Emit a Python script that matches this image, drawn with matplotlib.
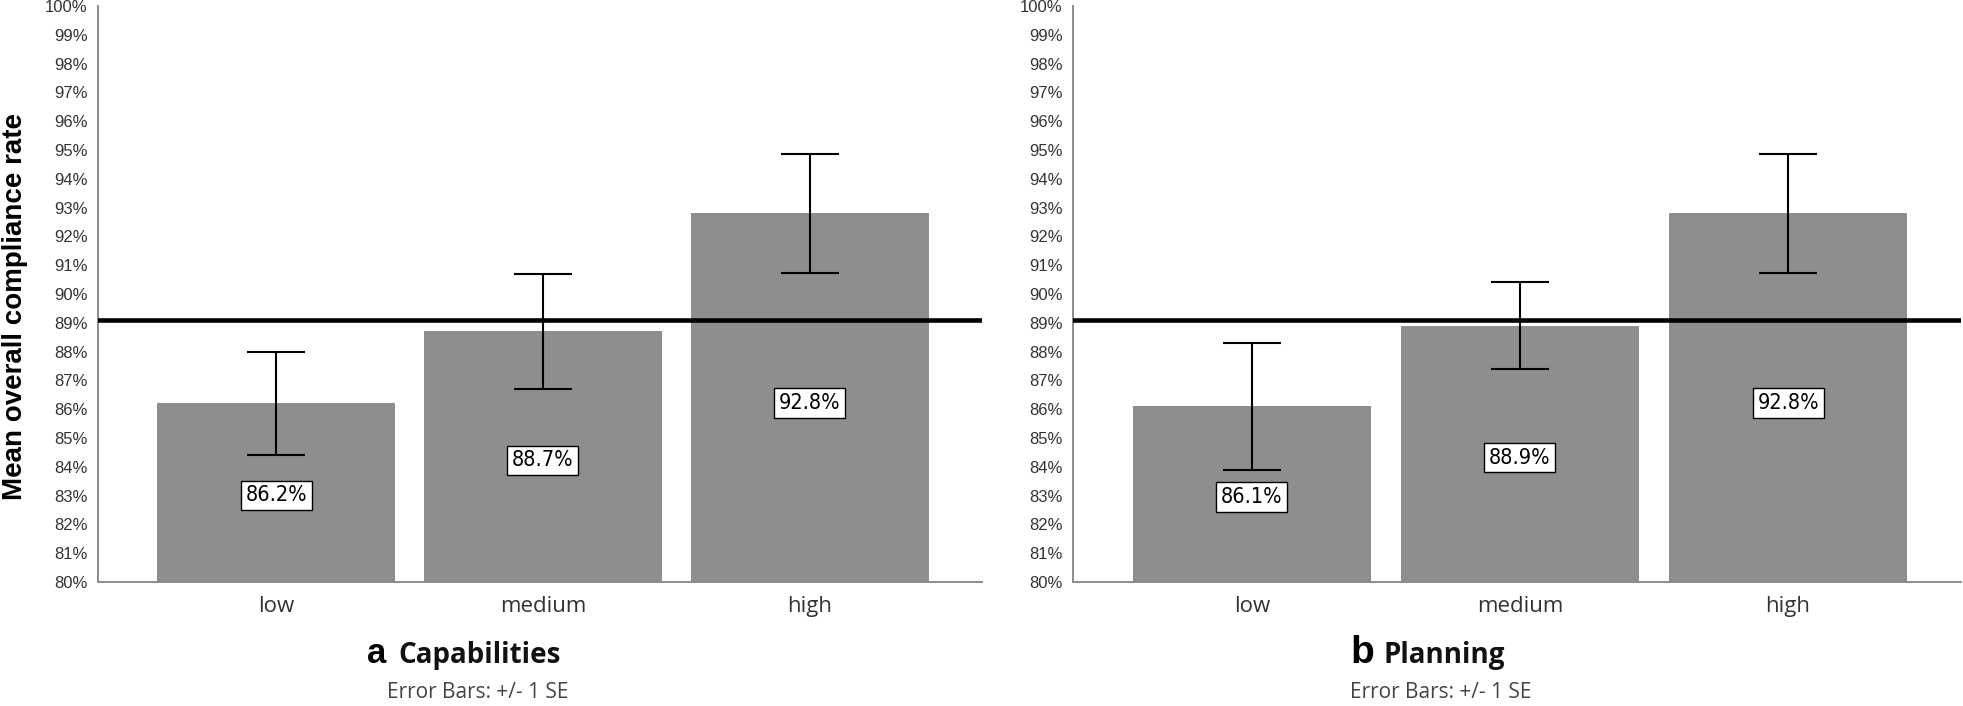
import matplotlib
matplotlib.use("Agg")
import matplotlib.pyplot as plt
from matplotlib import font_manager

categories = ["low", "medium", "high"]
cap_means = [86.2, 88.7, 92.8]
cap_se = [1.79, 2.00, 2.07]
plan_means = [86.1, 88.9, 92.8]
plan_se = [2.21, 1.50, 2.07]
overall_mean = 89.1
yticks = list(range(80, 101))
panel_letters = ["a", "b"]
panel_titles = ["Capabilities", "Planning"]
note = "Error Bars: +/- 1 SE"
ylabel = "Mean overall compliance rate"

names = {f.name for f in font_manager.fontManager.ttflist}
narrow = "Liberation Sans Narrow" if "Liberation Sans Narrow" in names else "DejaVu Sans"
narrow_stretch = "normal" if narrow == "Liberation Sans Narrow" else "condensed"

W, H = 1963, 706
fig = plt.figure(figsize=(W / 100, H / 100), dpi=100)

def px_axes(x0, x1, ytop, ybot):
    return fig.add_axes([x0 / W, (H - ybot) / H, (x1 - x0) / W, (ybot - ytop) / H])

axes = [px_axes(98, 982, 6, 582), px_axes(1073, 1961, 6, 582)]
series = [(cap_means, cap_se), (plan_means, plan_se)]

bar_color = "#8e8e8e"
spine_color = "#8c8c8c"
xpos = list(range(len(categories)))

for ax, (means, se) in zip(axes, series):
    ax.bar(xpos, means, width=0.89, color=bar_color, zorder=2)
    ax.errorbar(xpos, means, yerr=se, fmt="none", ecolor="black",
                elinewidth=1.5, capsize=21, capthick=1.5, zorder=4)
    ax.axhline(overall_mean, color="black", lw=3.3, zorder=3)
    for x, v in zip(xpos, means):
        ax.text(x, 80 + (v - 80) * 0.485, f"{v:.1f}%", ha="center", va="center",
                fontsize=15.5, family=narrow, fontstretch=narrow_stretch, color="black",
                bbox=dict(boxstyle="square,pad=0.22", fc="white", ec="black", lw=1.0),
                zorder=5)
    ax.set_xlim(-0.667, 2.645)
    ax.set_ylim(80, 100)
    ax.set_yticks(yticks)
    ax.set_yticklabels([f"{t}%" for t in yticks], fontsize=12,
                       family="Liberation Sans", color="#333333")
    ax.set_xticks(xpos)
    ax.set_xticklabels(categories, fontsize=16, family="Open Sans", color="#333333")
    ax.tick_params(axis="y", length=0, pad=7.5)
    ax.tick_params(axis="x", length=0, pad=10)
    for s in ["top", "right"]:
        ax.spines[s].set_visible(False)
    for s in ["left", "bottom"]:
        ax.spines[s].set_color(spine_color)
        ax.spines[s].set_linewidth(1.4)
    ax.set_facecolor("white")

fig.text(15 / W, (H - 306) / H, ylabel, rotation=90, ha="center", va="center",
         fontsize=20, fontweight="bold", family="Liberation Sans", color="black")

title_specs = [(367, 398, 387), (1350, 1383, 1350)]
letter_sizes = [25, 28]
for (xl, xt, xn), letter, title, ls in zip(title_specs, panel_letters, panel_titles, letter_sizes):
    fig.text(xl / W, (H - 663) / H, letter, ha="left", va="baseline",
             fontsize=ls, fontweight="bold", family="Liberation Sans", color="black")
    fig.text(xt / W, (H - 663) / H, title, ha="left", va="baseline",
             fontsize=20, fontweight="bold", family="Open Sans", color="#111111")
    fig.text(xn / W, (H - 692) / H, note, ha="left", va="center",
             fontsize=15, family="Open Sans", color="#444444")

fig.savefig("out.png", dpi=100, facecolor="white")
